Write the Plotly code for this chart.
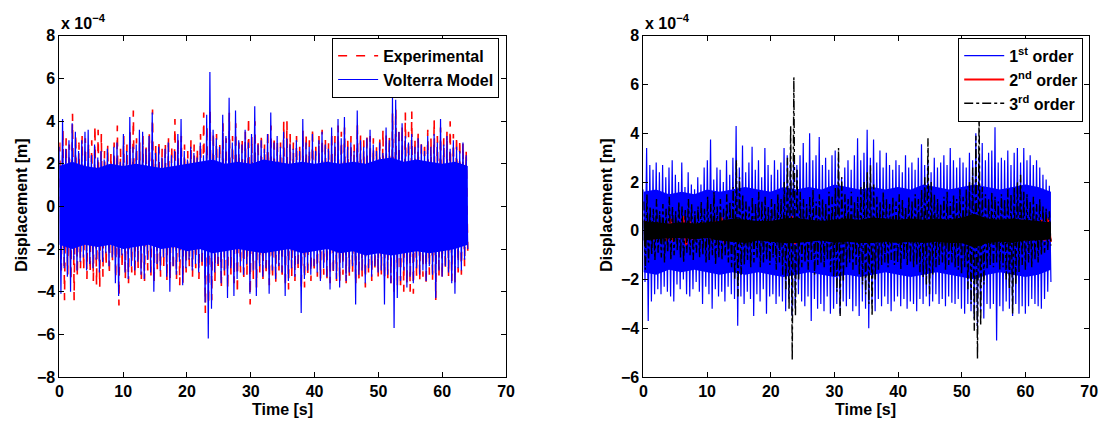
import numpy as np
import plotly.graph_objects as go

# ---------------- data (units of 1e-4 m) ----------------
T_END = 64.0  # end of record [s]

# Left: Experimental vs Volterra model (peak envelopes)
VOL_UP = [2.8, 4.1, 2.7, 3.1, 3.9, 3.5, 2.6, 3.1, 3.5, 3.6,
          2.4, 2.9, 2.3, 2.6, 2.2, 2.7, 2.0, 2.8, 3.0, 2.1,
          3.4, 2.6, 4.2, 2.8, 2.9, 3.6, 3.5, 2.7, 3.3, 4.4,
          2.5, 2.8, 2.3, 2.7, 3.0, 2.4, 2.6, 3.4, 4.1, 2.6,
          2.2, 2.8, 2.5, 2.3, 3.0, 2.4, 4.3, 6.3, 3.6, 3.2,
          2.8, 4.3, 3.3, 5.1, 3.0, 4.5, 3.1, 2.9, 3.6, 3.0,
          3.4, 4.7, 2.9, 3.1, 2.7, 3.4, 4.4, 3.0, 3.3, 2.8,
          3.5, 3.2, 2.9, 2.7, 3.1, 2.6, 4.1, 3.0, 2.8, 3.4,
          2.6, 3.1, 3.5, 2.9, 2.7, 3.7, 3.0, 4.1, 3.2, 4.2,
          2.8, 3.0, 2.6, 4.5, 3.1, 2.8, 3.2, 3.6, 2.9, 2.6,
          3.0, 2.5, 3.7, 3.1, 5.1, 5.0, 3.5, 3.9, 3.3, 3.0,
          3.4, 2.8, 3.2, 2.9, 2.6, 3.3, 2.8, 3.4, 3.0, 4.1,
          2.9, 3.3, 2.7, 3.1, 2.8, 2.6, 3.0, 2.4]
VOL_LO = [-4.1, -2.9, -3.3, -4.0, -2.5, -3.0, -2.6, -2.4, -3.0, -2.7,
          -2.9, -2.5, -3.1, -2.6, -2.2, -2.8, -2.4, -3.6, -4.2, -2.3,
          -3.1, -3.4, -2.8, -3.0, -2.6, -3.2, -3.4, -2.5, -3.1, -4.0,
          -2.7, -3.0, -2.4, -3.3, -4.0, -2.8, -3.2, -2.6, -3.7, -2.9,
          -2.5, -3.0, -2.7, -3.1, -2.6, -4.5, -6.2, -4.8, -3.1, -2.7,
          -3.6, -3.0, -4.3, -2.9, -4.2, -3.4, -2.8, -3.2, -2.7, -4.1,
          -3.0, -4.2, -2.8, -3.3, -2.9, -4.1, -3.0, -3.4, -2.8, -3.1,
          -4.2, -3.5, -2.9, -3.3, -2.7, -5.0, -3.4, -3.0, -3.2, -2.8,
          -3.1, -3.5, -2.9, -3.3, -3.9, -3.0, -3.4, -3.8, -2.9, -3.5,
          -3.1, -2.8, -4.6, -3.2, -3.0, -3.6, -2.9, -3.3, -2.8, -3.1,
          -3.0, -4.6, -3.2, -3.6, -5.7, -4.3, -3.5, -3.0, -3.8, -3.3,
          -3.6, -2.9, -3.2, -3.0, -3.5, -2.8, -3.2, -4.3, -3.0, -3.3,
          -2.8, -3.1, -3.6, -4.1, -2.9, -3.0, -2.5, -2.0]
# dense (solid) band of the Volterra response, every 2 s
VOL_CORE_UP = [1.9, 2.1, 1.9, 1.8, 2.0, 1.9, 2.0, 1.9, 1.8, 1.9, 2.0,
               2.1, 2.2, 2.0, 2.1, 2.0, 2.2, 2.1, 2.0, 2.1, 2.0, 2.1,
               2.0, 2.1, 2.0, 2.2, 2.3, 2.1, 2.2, 2.1, 2.0, 2.1, 1.9]
VOL_CORE_LO = [-1.8, -2.0, -1.8, -1.9, -1.8, -2.0, -1.9, -1.8, -2.0, -1.9, -2.1,
               -2.0, -2.2, -2.1, -2.0, -2.1, -2.2, -2.1, -2.0, -2.2, -2.1, -2.0,
               -2.2, -2.1, -2.3, -2.2, -2.3, -2.2, -2.1, -2.2, -2.1, -2.0, -1.8]
EXP_UP = [3.0, 3.6, 3.2, 2.9, 4.35, 3.4, 3.0, 3.3, 3.2, 3.0,
          3.1, 3.8, 3.6, 3.4, 2.6, 2.9, 2.5, 3.0, 3.8, 2.7,
          3.3, 2.9, 3.5, 4.5, 3.2, 3.0, 3.3, 2.8, 3.4, 4.55,
          2.9, 3.1, 2.7, 3.0, 3.3, 2.8, 4.1, 3.2, 3.3, 2.9,
          2.6, 3.1, 2.9, 2.7, 3.4, 4.4, 3.8, 4.6, 3.5, 3.4,
          3.0, 3.9, 3.2, 4.4, 3.3, 3.9, 3.0, 3.2, 3.5, 4.2,
          3.3, 4.0, 3.1, 3.4, 2.9, 3.6, 3.8, 3.3, 3.1, 3.0,
          4.0, 4.0, 3.4, 3.0, 3.3, 2.9, 3.6, 3.4, 3.1, 3.7,
          2.9, 3.3, 3.6, 3.2, 3.0, 3.5, 3.3, 3.8, 3.5, 3.7,
          3.1, 3.3, 2.9, 3.9, 3.4, 3.1, 3.4, 3.3, 3.2, 2.9,
          3.3, 3.6, 3.4, 3.3, 4.4, 4.6, 3.7, 3.8, 4.4, 3.5,
          4.45, 3.2, 3.5, 3.1, 3.0, 3.6, 3.2, 4.1, 3.3, 3.7,
          3.2, 3.5, 4.0, 3.4, 3.3, 3.15, 3.0, 2.65]
EXP_LO = [-3.0, -4.4, -3.2, -3.5, -4.4, -3.3, -2.9, -3.0, -3.4, -3.1,
          -3.5, -3.7, -3.8, -3.3, -2.8, -3.2, -2.6, -3.4, -4.65, -2.9,
          -3.4, -3.6, -3.1, -3.3, -2.9, -3.4, -3.5, -3.0, -3.3, -3.6,
          -3.0, -3.3, -2.8, -3.5, -3.4, -3.0, -3.4, -3.7, -3.6, -3.1,
          -2.8, -3.3, -2.9, -3.4, -2.9, -5.0, -4.6, -4.4, -3.5, -3.0,
          -3.8, -3.3, -3.9, -3.2, -3.6, -4.1, -3.1, -3.5, -3.2, -4.6,
          -3.4, -3.8, -3.1, -3.5, -3.2, -3.7, -3.4, -3.6, -3.0, -3.4,
          -3.8, -3.9, -3.3, -3.5, -3.0, -3.9, -3.8, -3.3, -3.5, -3.1,
          -3.3, -3.4, -3.2, -3.5, -3.6, -3.2, -3.5, -3.6, -3.2, -3.6,
          -3.3, -3.1, -3.7, -3.4, -3.3, -3.8, -3.2, -3.5, -3.0, -3.3,
          -3.2, -3.4, -3.4, -3.6, -4.1, -3.8, -3.9, -4.0, -3.7, -4.0,
          -4.1, -3.3, -3.5, -3.3, -3.7, -3.2, -3.5, -4.4, -3.3, -3.4,
          -3.0, -3.3, -3.5, -3.6, -3.1, -3.2, -2.8, -2.1]

# Right: Volterra kernel order contributions
FIRST_UP = [1.7, 3.4, 2.7, 2.5, 2.8, 2.4, 2.7, 2.2, 2.6, 2.9,
            2.3, 2.0, 2.8, 1.8, 2.4, 1.9, 1.7, 2.2, 1.9, 2.6,
            2.9, 3.75, 2.1, 2.6, 2.5, 2.0, 2.9, 2.3, 3.0, 4.3,
            2.6, 3.5, 2.4, 2.8, 3.45, 2.5, 2.9, 2.2, 3.4, 2.7,
            2.3, 2.9, 2.5, 2.8, 3.4, 3.1, 2.9, 3.0, 2.7, 3.1,
            3.6, 2.8, 4.0, 2.9, 3.1, 3.85, 2.7, 3.0, 2.5, 3.1,
            3.3, 3.0, 2.2, 2.6, 2.9, 2.5, 3.1, 3.8, 2.9, 3.2,
            4.15, 3.0, 3.75, 2.8, 3.3, 2.6, 3.2, 2.7, 2.5, 2.9,
            2.7, 2.4, 3.1, 2.6, 2.8, 2.5, 3.0, 3.55, 2.7, 2.9,
            2.4, 3.0, 2.6, 2.8, 3.1, 2.7, 3.4, 2.9, 2.6, 3.0,
            2.8, 2.6, 3.2, 2.9, 4.0, 3.1, 3.6, 2.9, 3.2, 3.3,
            4.25, 2.8, 3.0, 2.9, 3.3, 2.7, 3.2, 3.4, 2.8, 3.4,
            2.9, 3.1, 2.7, 2.9, 2.6, 2.3, 2.1, 1.85]
FIRST_LO = [-2.1, -3.7, -2.9, -2.6, -2.4, -2.6, -2.3, -2.5, -2.7, -2.9,
            -2.2, -2.4, -2.0, -2.6, -2.7, -2.4, -2.1, -2.5, -3.0, -2.3,
            -2.6, -3.2, -2.4, -2.7, -2.5, -2.9, -2.3, -2.6, -2.8, -3.9,
            -2.7, -3.0, -2.5, -2.8, -3.5, -2.6, -2.9, -2.4, -3.4, -2.7,
            -2.6, -3.0, -2.7, -2.9, -3.3, -2.8, -3.5, -3.2, -2.6, -2.9,
            -3.1, -2.7, -3.7, -2.8, -3.2, -3.0, -3.3, -2.7, -3.4, -3.2,
            -3.0, -3.4, -2.9, -3.1, -2.8, -3.3, -3.1, -3.5, -2.9, -3.2,
            -4.0, -3.0, -3.3, -2.8, -3.1, -2.7, -3.0, -3.3, -2.9, -2.7,
            -3.1, -2.8, -3.2, -2.9, -3.0, -3.3, -2.8, -3.0, -2.7, -3.1,
            -2.9, -2.6, -3.0, -2.8, -3.1, -2.7, -2.95, -3.0, -2.8, -3.2,
            -3.4, -3.0, -3.3, -3.6, -4.0, -3.3, -3.6, -3.0, -3.2, -3.0,
            -4.5, -3.1, -3.3, -2.9, -3.2, -3.5, -3.0, -3.4, -3.1, -3.4,
            -3.1, -2.8, -3.0, -3.1, -3.2, -2.8, -2.5, -2.1]
FIRST_CORE_UP = [1.6, 1.7, 1.5, 1.6, 1.5, 1.7, 1.6, 1.7, 1.8, 1.7, 1.6,
                 1.8, 1.7, 1.8, 1.7, 1.9, 1.8, 1.7, 1.8, 1.7, 1.8, 1.7,
                 1.9, 1.8, 1.7, 1.8, 1.9, 1.8, 1.7, 1.8, 1.9, 1.8, 1.6]
FIRST_CORE_LO = [-1.7, -1.8, -1.6, -1.7, -1.6, -1.7, -1.8, -1.7, -1.8, -1.7, -1.8,
                 -1.9, -1.8, -1.7, -1.8, -1.9, -1.8, -1.9, -1.8, -1.7, -1.8, -1.9,
                 -1.8, -1.7, -1.8, -1.9, -2.0, -1.8, -1.7, -1.8, -1.9, -1.8, -1.6]
SECOND_UP = [0.4, 0.3, 0.35, 0.3, 0.5, 0.3, 0.6, 0.4, 0.3, 0.35,
             0.3, 0.4, 0.55, 0.3, 0.35, 0.4, 0.3, 0.3, 0.35, 0.3,
             0.4, 0.3, 0.45, 0.6, 0.4, 0.3, 0.35, 0.4, 0.3, 0.35,
             0.4, 0.3, 0.35, 0.3, 0.4, 0.45, 0.3, 0.35, 0.3, 0.4,
             0.3, 0.35, 0.3, 0.4, 0.45, 0.3, 0.35, 0.3, 0.4, 0.3,
             0.35, 0.5, 0.6, 0.4, 0.35, 0.3, 0.4, 0.35, 0.3, 0.45,
             0.35, 0.4, 0.45, 0.5]
SECOND_LO = [-0.3, -0.35, -0.3, -0.4, -0.45, -0.3, -0.6, -0.35, -0.3, -0.3,
             -0.35, -0.3, -0.5, -0.35, -0.3, -0.4, -0.3, -0.35, -0.3, -0.3,
             -0.35, -0.3, -0.4, -0.55, -0.35, -0.3, -0.3, -0.35, -0.3, -0.4,
             -0.35, -0.3, -0.3, -0.35, -0.3, -0.4, -0.3, -0.35, -0.3, -0.3,
             -0.35, -0.3, -0.3, -0.35, -0.4, -0.3, -0.3, -0.35, -0.3, -0.3,
             -0.35, -0.45, -0.5, -0.35, -0.3, -0.3, -0.35, -0.3, -0.35, -0.4,
             -0.3, -0.35, -0.4, -0.45]
THIRD_UP = [1.2, 1.5, 1.0, 0.9, 1.3, 0.8, 1.1, 0.9, 1.4, 1.0,
            0.8, 1.2, 1.0, 0.9, 1.3, 1.1, 0.8, 1.0, 1.2, 0.9,
            1.4, 1.1, 1.6, 1.0, 1.3, 0.9, 1.5, 1.2, 1.8, 2.9,
            2.2, 1.5, 1.2, 1.0, 1.4, 1.1, 1.6, 1.2, 1.4, 1.0,
            1.3, 1.1, 1.5, 1.3, 2.0, 3.0, 4.3, 6.3, 2.5, 1.6,
            1.3, 1.1, 1.4, 1.7, 1.2, 1.5, 1.3, 1.1, 1.6, 1.4,
            1.8, 3.4, 2.2, 1.5, 1.3, 1.6, 1.2, 1.4, 1.8, 2.0,
            2.4, 2.7, 1.9, 1.4, 1.2, 1.6, 1.3, 1.1, 1.4, 1.2,
            1.5, 1.3, 1.0, 1.4, 1.2, 1.5, 1.3, 1.7, 2.2, 3.8,
            2.0, 1.5, 1.3, 1.1, 1.4, 1.6, 1.2, 1.5, 1.3, 1.7,
            1.4, 1.7, 2.0, 2.6, 3.9, 5.0, 1.8, 1.5, 1.3, 1.6,
            1.4, 1.2, 1.5, 1.3, 1.7, 1.5, 1.8, 2.0, 2.3, 1.6,
            1.5, 1.2, 1.4, 1.1, 1.3, 1.0, 0.9, 0.8]
THIRD_LO = [-1.6, -1.3, -1.0, -1.2, -0.9, -1.1, -1.3, -0.9, -1.2, -1.0,
            -0.8, -1.1, -1.3, -0.9, -1.0, -1.2, -0.9, -1.1, -1.0, -1.3,
            -1.2, -1.0, -1.4, -1.1, -1.2, -1.0, -1.3, -1.5, -2.0, -2.7,
            -1.8, -1.4, -1.2, -1.5, -1.3, -1.1, -1.5, -1.3, -1.2, -1.4,
            -1.1, -1.6, -1.3, -1.8, -2.4, -3.2, -5.3, -3.5, -2.0, -1.5,
            -1.3, -1.6, -1.2, -1.8, -1.4, -1.3, -1.5, -1.2, -1.7, -1.9,
            -2.5, -3.5, -2.1, -1.5, -1.3, -1.6, -1.4, -1.8, -2.2, -2.6,
            -3.0, -3.5, -2.0, -1.6, -1.4, -1.3, -1.5, -1.2, -1.4, -1.3,
            -1.6, -1.2, -1.4, -1.3, -1.5, -1.4, -1.7, -1.9, -2.2, -2.6,
            -1.8, -1.5, -1.4, -1.3, -1.6, -1.4, -1.3, -1.5, -1.6, -1.8,
            -1.5, -2.4, -3.0, -4.1, -5.25, -3.9, -2.2, -1.6, -1.4, -1.5,
            -1.3, -1.6, -1.5, -2.0, -2.4, -3.4, -2.2, -1.7, -1.4, -1.6,
            -1.3, -1.5, -1.2, -1.3, -1.0, -0.9, -0.8, -0.6]
THIRD_CORE_UP = [0.4, 0.35, 0.3, 0.35, 0.3, 0.35, 0.4, 0.5, 0.45, 0.4, 0.4,
                 0.5, 0.55, 0.45, 0.4, 0.45, 0.5, 0.45, 0.55, 0.5, 0.45, 0.5,
                 0.45, 0.5, 0.45, 0.55, 0.7, 0.5, 0.45, 0.5, 0.45, 0.4, 0.35]
THIRD_CORE_LO = [-0.4, -0.35, -0.3, -0.3, -0.35, -0.3, -0.4, -0.45, -0.5, -0.4, -0.45,
                 -0.5, -0.5, -0.45, -0.4, -0.5, -0.45, -0.5, -0.5, -0.45, -0.5, -0.45,
                 -0.5, -0.45, -0.5, -0.5, -0.7, -0.5, -0.45, -0.5, -0.4, -0.4, -0.35]

X_TICKS = [0, 10, 20, 30, 40, 50, 60, 70]
Y_TICKS_L = [-8, -6, -4, -2, 0, 2, 4, 6, 8]
Y_TICKS_R = [-6, -4, -2, 0, 2, 4, 6, 8]


def trace_xy(up, lo, t0):
    """Alternate recorded positive and negative peaks along the time record."""
    n = min(len(up), len(lo))
    t = np.linspace(t0, T_END, 2 * n)
    y = np.empty(2 * n)
    y[0::2] = up[:n]
    y[1::2] = lo[:n]
    return t, y


def band_xy(up, lo):
    """Closed outline of the dense oscillation band."""
    n = min(len(up), len(lo))
    t = np.linspace(0, T_END, n)
    return (np.concatenate([t, t[::-1]]),
            np.concatenate([np.asarray(up[:n]), np.asarray(lo[:n])[::-1]]))


W, H = 1110, 435
FONT = "Liberation Sans"
BLUE, RED, BLACK = "#0000ff", "#ff0000", "#000000"

fig = go.Figure()

# ---- left panel ----
t, y = trace_xy(EXP_UP, EXP_LO, 0.06)
fig.add_trace(go.Scatter(x=t, y=y, mode="lines", name="Experimental",
                         line=dict(color=RED, width=1.6, dash="dash"),
                         xaxis="x", yaxis="y", legend="legend"))
bx, by = band_xy(VOL_CORE_UP, VOL_CORE_LO)
fig.add_trace(go.Scatter(x=bx, y=by, mode="lines", fill="toself", fillcolor=BLUE,
                         line=dict(width=0, color=BLUE), showlegend=False,
                         hoverinfo="skip", xaxis="x", yaxis="y"))
t, y = trace_xy(VOL_UP, VOL_LO, 0.0)
fig.add_trace(go.Scatter(x=t, y=y, mode="lines", name="Volterra Model",
                         line=dict(color=BLUE, width=1.2),
                         xaxis="x", yaxis="y", legend="legend"))

# ---- right panel ----
bx, by = band_xy(FIRST_CORE_UP, FIRST_CORE_LO)
fig.add_trace(go.Scatter(x=bx, y=by, mode="lines", fill="toself", fillcolor=BLUE,
                         line=dict(width=0, color=BLUE), showlegend=False,
                         hoverinfo="skip", xaxis="x2", yaxis="y2"))
t, y = trace_xy(FIRST_UP, FIRST_LO, 0.0)
fig.add_trace(go.Scatter(x=t, y=y, mode="lines", name="1<sup>st</sup> order",
                         line=dict(color=BLUE, width=1.2),
                         xaxis="x2", yaxis="y2", legend="legend2"))
t, y = trace_xy(SECOND_UP, SECOND_LO, 0.2)
fig.add_trace(go.Scatter(x=t, y=y, mode="lines", name="2<sup>nd</sup> order",
                         line=dict(color=RED, width=2),
                         xaxis="x2", yaxis="y2", legend="legend2"))
bx, by = band_xy(THIRD_CORE_UP, THIRD_CORE_LO)
fig.add_trace(go.Scatter(x=bx, y=by, mode="lines", fill="toself", fillcolor=BLACK,
                         line=dict(width=0, color=BLACK), showlegend=False,
                         hoverinfo="skip", xaxis="x2", yaxis="y2"))
t, y = trace_xy(THIRD_UP, THIRD_LO, 0.05)
fig.add_trace(go.Scatter(x=t, y=y, mode="lines", name="3<sup>rd</sup> order",
                         line=dict(color=BLACK, width=1.4, dash="dashdot"),
                         xaxis="x2", yaxis="y2", legend="legend2"))

ax_common = dict(showgrid=False, zeroline=False, showline=True, linecolor="black",
                 linewidth=1, mirror="allticks", ticks="inside", ticklen=5,
                 tickcolor="black", tickwidth=1,
                 tickfont=dict(family=FONT, size=16, color="black", weight="bold"))

dL = [56 / W, 508 / W]
dR = [647 / W, 1098 / W]
dY = [1 - 384 / H, 1 - 29 / H]

leg = dict(yanchor="top", xanchor="right", bgcolor="white", bordercolor="black",
           borderwidth=1, itemwidth=40, tracegroupgap=0,
           font=dict(family=FONT, size=16, color="black", weight="bold"))

fig.update_layout(
    width=W, height=H, margin=dict(l=0, r=0, t=0, b=0),
    paper_bgcolor="white", plot_bgcolor="white", showlegend=True,
    xaxis=dict(domain=dL, range=[0, 70], tickvals=X_TICKS, anchor="y", **ax_common),
    yaxis=dict(domain=dY, range=[-8, 8], tickvals=Y_TICKS_L, anchor="x", **ax_common),
    xaxis2=dict(domain=dR, range=[0, 70], tickvals=X_TICKS, anchor="y2", **ax_common),
    yaxis2=dict(domain=dY, range=[-6, 8], tickvals=Y_TICKS_R, anchor="x2", **ax_common),
    legend=dict(x=501 / W, y=1 - 31 / H, **leg),
    legend2=dict(x=1092 / W, y=1 - 31 / H, **leg),
)

lab = dict(family=FONT, size=16, color="black", weight="bold")
ann = [
    dict(text="x 10<sup>\u22124</sup>", x=56 / W, y=1 - 27 / H, xanchor="left", yanchor="bottom"),
    dict(text="x 10<sup>\u22124</sup>", x=647 / W, y=1 - 27 / H, xanchor="left", yanchor="bottom"),
    dict(text="Displacement [m]", x=18 / W, y=1 - 205 / H, textangle=-90),
    dict(text="Displacement [m]", x=610 / W, y=1 - 205 / H, textangle=-90),
    dict(text="Time [s]", x=282 / W, y=1 - 418 / H),
    dict(text="Time [s]", x=872 / W, y=1 - 418 / H),
]
for a in ann:
    a.setdefault("xanchor", "center")
    a.setdefault("yanchor", "middle")
    fig.add_annotation(xref="paper", yref="paper", showarrow=False, font=lab, **a)

fig.write_html("out.html")
